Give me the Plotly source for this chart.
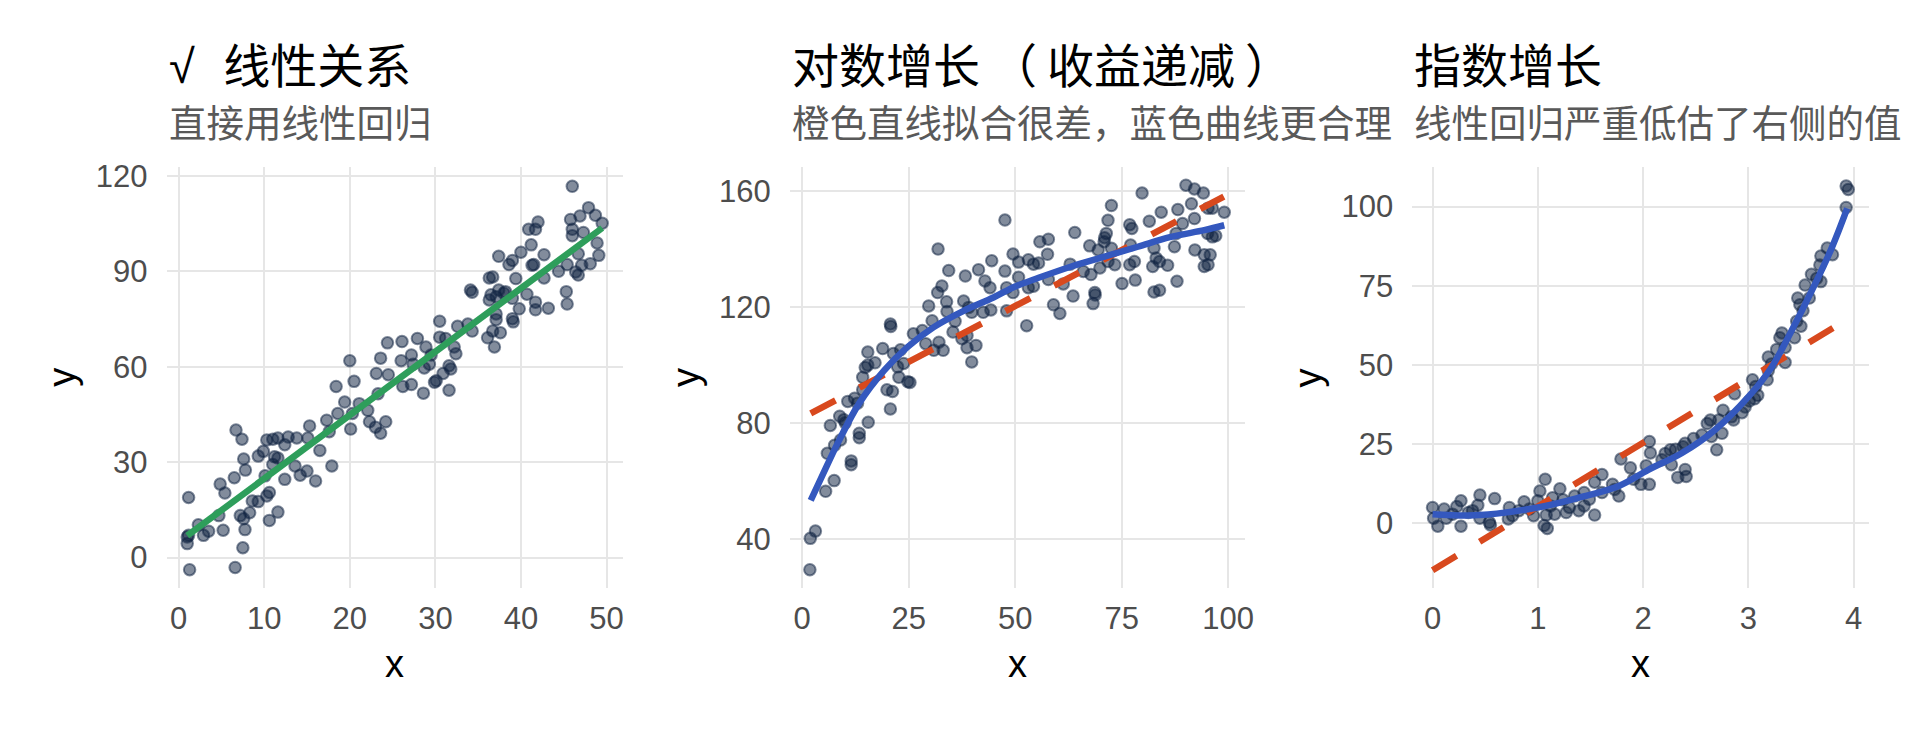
import plotly.graph_objects as go

W, H = 1920, 729

# ---- panel 1: linear ----
lin_x = [1.16, 1.28, 1.0, 1.0, 1.16, 2.3, 2.9, 3.5, 5.2, 4.7, 4.85, 5.4, 6.6, 6.7, 7.4, 7.5, 7.75, 7.6,
         7.8, 6.5, 7.2, 7.6, 8.3, 8.6, 9.3, 9.3, 9.9, 10.3, 10.1, 10.3, 10.6, 10.6, 11.6, 11.0, 11.2,
         11.6, 11.0, 11.6, 12.4, 12.4, 12.8, 13.8, 13.6, 14.2, 15.1, 15.3, 15.0, 16.0, 16.5, 17.3,
         17.6, 17.9, 18.4, 19.4, 18.6, 20.0, 20.5, 20.1, 20.3, 21.1, 22.1, 22.3, 23.0, 23.6, 24.2,
         23.1, 23.6, 24.5, 24.4, 26.1, 26.0, 26.2, 23.3,
         46.0, 47.9, 48.7, 49.5, 45.8, 46.9, 46.0, 46.0, 47.3, 48.9, 49.1, 46.7, 48.1, 47.1, 46.7,
         46.4, 45.4, 44.4, 45.3, 45.4, 42.7, 42.7, 41.3, 41.5, 40.9, 41.7, 42.0, 41.2, 40.0, 39.0,
         38.6, 37.4, 39.4, 40.7, 41.7, 43.2, 41.7, 39.8, 39.0, 38.2, 36.7, 36.3, 36.5, 37.1, 37.4,
         38.0, 36.3, 34.1, 34.3, 39.0, 39.1, 37.1, 37.1, 36.7, 36.1, 36.9, 37.6, 34.3, 33.8, 32.6,
         30.5, 30.5, 31.2, 32.2, 32.4, 27.9, 27.2, 28.9, 29.5, 29.3, 28.7, 27.4, 31.6, 31.8, 30.9,
         30.1, 29.9, 27.2, 28.6, 31.6]
lin_y = [18.9, -3.8, 4.4, 6.5, 7.0, 10.3, 7.0, 8.3, 8.6, 13.2, 23.1, 20.3, -3.1, 40.1, 37.2, 3.1, 8.8, 31.0,
         27.5, 25.1, 13.2, 12.2, 14.1, 17.8, 17.6, 31.9, 33.4, 37.0, 25.7, 19.4, 20.5, 11.7, 14.3, 29.3, 31.7,
         31.3, 37.2, 37.6, 35.5, 24.6, 37.9, 37.6, 28.8, 25.9, 37.6, 41.4, 27.2, 24.1, 33.7, 43.2,
         39.6, 28.8, 53.8, 48.9, 45.3, 61.9, 55.4, 40.4, 45.3, 48.4, 46.3, 42.7, 41.0, 39.1, 42.7,
         57.9, 62.7, 57.5, 67.5, 67.9, 61.9, 53.8, 51.5,
         116.7, 110.0, 107.6, 105.1, 106.3, 107.4, 103.2, 101.2, 102.2, 98.9, 95.0, 95.5, 92.4, 91.9, 88.8,
         89.8, 92.1, 90.0, 83.6, 79.7, 95.2, 87.9, 91.9, 92.1, 103.2, 103.2, 105.5, 98.3, 96.0, 93.4,
         92.1, 94.7, 87.7, 82.8, 80.3, 78.4, 77.9, 78.2, 81.5, 83.6, 88.2, 87.9, 82.6, 82.0, 84.1,
         83.1, 81.0, 84.1, 83.4, 75.1, 74.1, 76.6, 74.8, 71.2, 69.1, 66.2, 70.7, 71.2, 73.4, 72.7,
         74.3, 69.3, 68.9, 66.2, 64.1, 68.9, 63.7, 66.2, 63.7, 60.8, 59.6, 60.8, 60.3, 59.3, 57.9,
         55.6, 55.1, 54.4, 51.7, 52.6]
lin_fit_x = [1.0, 49.5]
lin_fit_y = [6.9, 103.6]

# ---- panel 2: logarithmic ----
log_x = [1.8, 1.9, 3.1, 5.5, 7.5, 5.9, 7.6, 6.6, 9.0, 8.8, 9.8, 10.1, 11.5, 11.5, 13.4, 13.4, 15.5, 10.7,
         12.3, 13.0, 14.2, 14.2, 14.8, 15.4, 15.4, 17.1, 18.9, 20.7, 20.8, 19.9, 21.2, 20.7, 21.4, 22.4,
         23.1, 22.7, 24.8, 25.3, 23.8, 26.1, 28.2, 29.0, 29.7, 30.5, 30.9, 32.1, 33.1, 31.8, 32.8, 33.9,
         34.0, 34.4, 31.9, 35.9, 35.4, 37.5, 38.3, 37.9, 39.1, 38.7, 38.7, 40.8, 39.8, 39.8, 41.4, 42.5,
         42.9, 44.5, 44.3, 44.1, 47.6, 47.6, 48.0, 48.0, 49.5, 49.5,
         52.7, 59.0, 60.5, 63.6, 64.0, 68.3, 68.8, 68.7, 72.6, 71.8, 71.4, 71.0, 79.8, 76.9, 77.4, 81.5,
         84.3, 88.2, 90.1, 92.1, 94.2, 91.4, 92.1, 95.3, 96.3, 99.1, 89.3, 95.2, 96.3, 97.1, 87.8, 87.4,
         92.2, 94.4, 95.8, 94.4, 95.3, 88.0, 83.9, 82.6, 85.8, 83.9, 82.3, 83.1, 82.6, 78.2, 75.1, 78.0,
         76.9, 77.1, 73.4, 71.8, 69.9, 67.8, 67.5, 69.5, 70.9, 72.6, 66.0, 62.9, 57.6, 57.8, 55.8, 50.8,
         54.3, 55.5, 53.1, 50.8, 54.3, 53.1, 57.8, 61.3]
log_y = [29.4, 40.2, 42.7, 56.4, 60.1, 69.5, 72.3, 79.1, 74.1, 82.3, 81.1, 80.0, 66.9, 65.6, 76.4, 74.9, 80.2, 87.4,
         88.5, 86.8, 91.4, 95.7, 99.1, 99.9, 104.4, 100.7, 105.6, 114.1, 113.2, 91.4, 90.8, 84.8, 103.9, 99.3,
         105.2, 95.7, 94.2, 93.9, 100.5, 110.7, 111.8, 107.3, 120.3, 115.2, 105.0, 107.8, 105.0, 124.9, 127.2, 121.7,
         118.4, 132.5, 139.9, 115.0, 111.3, 109.0, 130.6, 122.0, 119.8, 110.1, 105.9, 106.7, 101.0, 118.1, 132.8, 118.1,
         128.9, 135.9, 118.9, 126.6, 149.9, 132.3, 118.6, 126.6, 138.2, 124.9,
         113.5, 120.7, 117.7, 123.7, 145.6, 121.1, 124.1, 124.9, 154.9, 149.8, 145.3, 143.8, 159.2, 148.3, 147.0, 149.5,
         152.6, 153.5, 161.9, 160.6, 159.2, 155.5, 150.4, 154.0, 154.0, 152.6, 148.7, 145.3, 144.1, 144.5, 145.3, 140.7,
         139.6, 137.9, 137.9, 133.9, 134.5, 128.8, 125.7, 125.1, 134.3, 135.6, 133.9, 136.8, 140.2, 129.2, 128.0, 135.6,
         134.5, 141.3, 134.5, 135.6, 133.4, 131.1, 141.0, 139.6, 142.4, 140.2, 132.2, 134.7, 138.1, 143.3, 142.4, 135.4,
         134.7, 135.1, 136.2, 130.2, 127.1, 126.6, 129.4, 127.9]
log_lm_x = [2.0, 99.0]
log_lm_y = [83.3, 158.0]
log_curve_x = [2.0, 4.9, 8.4, 13.4, 19.3, 24.7, 30.9, 37.9, 44.9, 50.0, 55.5, 63.2, 71.0, 78.8, 86.6, 94.4, 99.1]
log_curve_y = [53.3, 62.4, 73.2, 86.8, 98.2, 106.1, 113.0, 118.6, 123.2, 127.0, 130.0, 133.9, 137.3, 140.7, 144.1,
               146.4, 148.1]

# ---- panel 3: exponential ----
exp_x = [0.0, 0.01, 0.05, 0.11, 0.13, 0.19, 0.23, 0.27, 0.27, 0.34, 0.38, 0.43, 0.45, 0.45, 0.54, 0.55, 0.59,
         0.72, 0.73, 0.76, 0.82, 0.87, 0.92, 0.96, 1.0, 1.02, 1.07, 1.06, 1.09, 1.08, 1.12, 1.14, 1.16, 1.21,
         1.24, 1.27, 1.30, 1.35, 1.39, 1.44, 1.44, 1.49, 1.54, 1.54, 1.61, 1.61, 1.71, 1.73, 1.77, 1.79, 1.88,
         1.91, 1.98, 2.03, 2.06, 2.06, 2.07,
         3.93, 3.95, 3.93, 3.80, 3.75, 3.69, 3.68, 3.69, 3.65, 3.60, 3.54, 3.58, 3.47, 3.52, 3.49, 3.46, 3.50,
         3.44, 3.32, 3.30, 3.35, 3.27, 3.35, 3.19, 3.22, 3.18, 3.19, 3.04, 3.07, 3.09, 3.06, 3.01, 2.97, 2.87,
         2.94, 2.84, 2.76, 2.86, 2.72, 2.64, 2.61, 2.75, 2.65, 2.70, 2.56, 2.48, 2.40, 2.38, 2.31, 2.26, 2.21,
         2.18, 2.27, 2.40, 2.33, 2.41]
exp_y = [5.0, 1.6, -0.9, 4.5, 1.6, 2.9, 5.3, 7.1, -0.9, 3.4, 4.0, 5.7, 8.9, 1.6, 0.3, -0.5, 7.8,
         1.4, 5.0, 2.4, 4.0, 6.8, 4.5, 2.4, 7.1, 10.2, 13.9, -0.7, -1.6, 2.6, 5.5, 8.1, 2.9, 10.9,
         7.4, 3.4, 5.0, 8.6, 4.0, 9.7, 5.5, 7.6, 2.6, 13.0, 15.4, 9.7, 12.3, 10.7, 8.6, 20.3, 17.5,
         13.9, 12.3, 18.2, 25.8, 12.3, 22.2,
         106.5, 105.4, 99.7, 84.8, 86.9, 84.4, 81.5, 76.3, 77.3, 78.6, 75.2, 71.1, 71.1, 67.1, 69.0, 63.8, 62.2,
         58.6, 60.1, 58.6, 55.5, 54.9, 50.8, 52.5, 50.3, 45.3, 48.2, 45.3, 43.2, 40.4, 39.3, 38.6, 36.7, 40.9,
         34.9, 33.6, 35.7, 32.6, 32.6, 32.6, 31.5, 28.4, 27.4, 23.2, 27.9, 26.8, 25.3, 24.2, 23.4, 23.2, 22.0,
         20.1, 18.5, 17.0, 14.5, 14.8]
exp_lm_x = [0.0, 3.95]
exp_lm_y = [-14.8, 64.6]
exp_curve_x = [0.0, 0.45, 1.0, 1.39, 1.77, 2.05, 2.37, 2.68, 3.0, 3.22, 3.41, 3.60, 3.79, 3.94]
exp_curve_y = [2.9, 2.6, 5.0, 8.1, 11.8, 16.9, 22.2, 29.4, 39.9, 49.2, 60.7, 73.2, 86.7, 99.4]

# the √ is drawn from the Latin font (no overbar) and given a wider advance;
# the full-width brackets get their full cell back
GAP = '<span style="letter-spacing:10px">{}</span>'
TITLES = ['<span style="font-family:Liberation Sans;letter-spacing:18px">√</span> 线性关系',
          "对数增" + GAP.format("长（") + "收益递" + GAP.format("减") + "）",
          "指数增长"]
SUBTITLES = ["直接用线性回归", "橙色直线拟合很差，蓝色曲线更合理", "线性回归严重低估了右侧的值"]
X_TICKS = [[0, 10, 20, 30, 40, 50], [0, 25, 50, 75, 100], [0, 1, 2, 3, 4]]
Y_TICKS = [[0, 30, 60, 90, 120], [40, 80, 120, 160], [0, 25, 50, 75, 100]]
X_RANGES = [[-1.42, 51.9], [-2.92, 104.0], [-0.193, 4.147]]
Y_RANGES = [[-9.63, 122.7], [23.0, 168.1], [-20.5, 112.4]]

# panel pixel boxes (left, right); shared top / bottom
PX = [(167.3, 625.7), (793.5, 1251.0), (1418.9, 1877.8)]
TOP, BOTTOM = 161.0, 586.7

POINT = "rgba(15,35,65,0.52)"
GREEN = "#2E9E5B"
BLUE = "#3458BE"
ORANGE = "#D8491E"
SANS = "Liberation Sans, Arial, sans-serif"
CJK = "Noto Sans CJK SC, sans-serif"

fig = go.Figure()


def add_points(xs, ys, i):
    fig.add_trace(go.Scatter(
        x=xs, y=ys, mode="markers", xaxis=f"x{i}", yaxis=f"y{i}",
        marker=dict(size=11.5, color=POINT, line=dict(width=2, color=POINT)),
        showlegend=False, hoverinfo="skip",
    ))


def add_line(xs, ys, i, color, dash="solid"):
    fig.add_trace(go.Scatter(
        x=xs, y=ys, mode="lines", xaxis=f"x{i}", yaxis=f"y{i}",
        line=dict(color=color, width=6.5, dash=dash, shape="spline" if len(xs) > 2 else "linear"),
        showlegend=False, hoverinfo="skip",
    ))


add_points(lin_x, lin_y, 1)
add_line(lin_fit_x, lin_fit_y, 1, GREEN)

add_points(log_x, log_y, 2)
add_line(log_lm_x, log_lm_y, 2, ORANGE, "28px,27px")
add_line(log_curve_x, log_curve_y, 2, BLUE)

add_points(exp_x, exp_y, 3)
add_line(exp_lm_x, exp_lm_y, 3, ORANGE, "28px,27px")
add_line(exp_curve_x, exp_curve_y, 3, BLUE)

axis_common = dict(
    showline=False, zeroline=False, showgrid=True,
    gridcolor="#E6E6E6", gridwidth=2, ticks="",
    tickfont=dict(family=SANS, size=31, color="#4D4D4D"),
)

layout = {}
annotations = []
for k in range(3):
    i = k + 1
    left, right = PX[k]
    layout[f"xaxis{i}"] = dict(
        axis_common, domain=[left / W, right / W], range=X_RANGES[k],
        tickvals=X_TICKS[k], anchor=f"y{i}", ticklabelstandoff=9,
    )
    layout[f"yaxis{i}"] = dict(
        axis_common, domain=[1 - BOTTOM / H, 1 - TOP / H], range=Y_RANGES[k],
        tickvals=Y_TICKS[k], anchor=f"x{i}", ticklabelstandoff=18,
    )
    annotations.append(dict(
        text=TITLES[k], x=left / W, y=1 - 55 / H, xref="paper", yref="paper",
        xanchor="left", yanchor="middle", showarrow=False,
        font=dict(family=CJK, size=47, color="#000000"),
    ))
    annotations.append(dict(
        text=SUBTITLES[k], x=left / W, y=1 - 114 / H, xref="paper", yref="paper",
        xanchor="left", yanchor="middle", showarrow=False,
        font=dict(family=CJK, size=37.5, color="#595959"),
    ))
    annotations.append(dict(
        text="x", x=(left + right) / 2 / W, y=1 - 663 / H, xref="paper", yref="paper",
        xanchor="center", yanchor="middle", showarrow=False,
        font=dict(family=SANS, size=38, color="#000000"),
    ))
    annotations.append(dict(
        text="y", x=(left - 105) / W, y=1 - (TOP + BOTTOM) / 2 / H, xref="paper", yref="paper",
        xanchor="center", yanchor="middle", showarrow=False, textangle=-90,
        font=dict(family=SANS, size=38, color="#000000"),
    ))

fig.update_layout(
    **layout,
    annotations=annotations,
    width=W, height=H,
    margin=dict(l=0, r=0, t=0, b=0),
    paper_bgcolor="white", plot_bgcolor="white",
    hovermode=False,
)

# the page's default 8px body margin would shift the figure
fig.write_html("out.html", config={"displayModeBar": False},
               post_script="document.body.style.margin='0px';")
